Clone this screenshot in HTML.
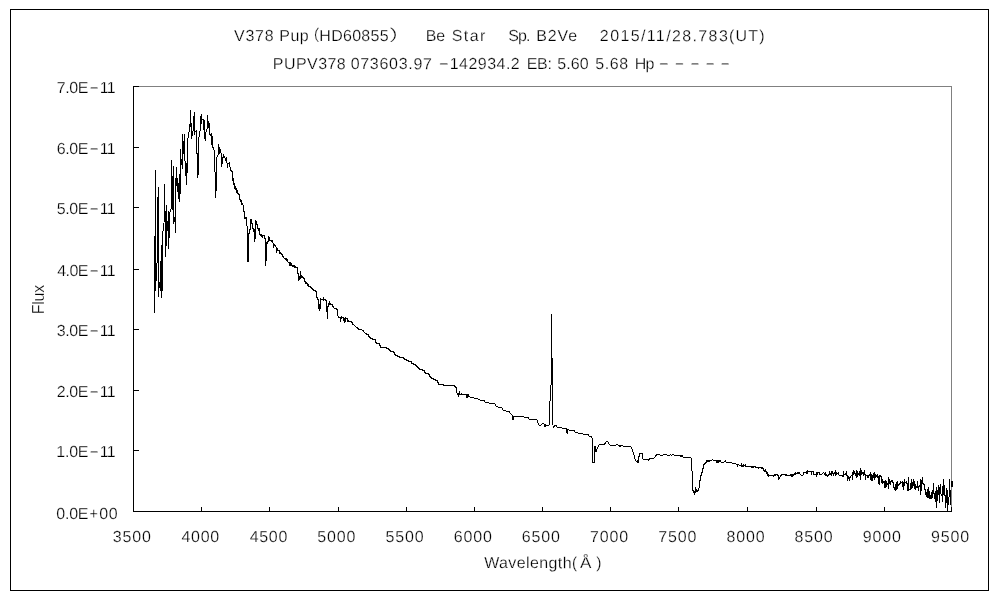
<!DOCTYPE html>
<html lang="ja"><head><meta charset="utf-8"><title>V378 Pup spectrum</title>
<style>
html,body{margin:0;padding:0;background:#fff;}
body{width:1000px;height:600px;overflow:hidden;}
svg{display:block;}
text{font-family:"Liberation Sans","IPAGothic","Noto Sans CJK JP",sans-serif;font-size:16px;fill:#000;stroke:#fff;stroke-width:0.25px;}
</style></head><body>
<svg width="1000" height="600" viewBox="0 0 1000 600">
<rect x="0" y="0" width="1000" height="600" fill="#fff"/>
<g shape-rendering="crispEdges">
<path d="M10 9h979v582h-979zM11 10v580h977v-580z" fill="#000" fill-rule="evenodd"/>
<path d="M133 86h819v426h-1v-425h-818z" fill="#808080"/>
<path d="M133 86h1v426h-1zM133 511h819v1h-819z" fill="#000"/>
<path d="M133 507h1v5h-1zM201 507h1v5h-1zM269 507h1v5h-1zM338 507h1v5h-1zM406 507h1v5h-1zM474 507h1v5h-1zM542 507h1v5h-1zM610 507h1v5h-1zM678 507h1v5h-1zM747 507h1v5h-1zM816 507h1v5h-1zM884 507h1v5h-1zM951 507h1v5h-1zM133 86h6v1h-6zM133 147h6v1h-6zM133 207h6v1h-6zM133 269h6v1h-6zM133 329h6v1h-6zM133 390h6v1h-6zM133 450h6v1h-6zM133 511h6v1h-6z" fill="#000"/>
<path d="M154 236h1v77h-1zM155 170h1v121h-1zM156 263h1v18h-1zM157 197h1v66h-1zM158 187h1v110h-1zM159 282h1v6h-1zM160 261h1v30h-1zM161 245h1v53h-1zM162 231h1v60h-1zM163 223h1v8h-1zM164 184h1v38h-1zM165 211h1v46h-1zM166 205h1v41h-1zM167 221h1v10h-1zM168 211h1v38h-1zM169 212h1v26h-1zM170 209h1v3h-1zM171 160h1v49h-1zM172 176h1v34h-1zM173 166h1v58h-1zM174 217h1v5h-1zM175 178h1v55h-1zM176 167h1v19h-1zM177 178h1v14h-1zM178 183h1v16h-1zM179 174h1v28h-1zM180 149h1v45h-1zM181 159h1v6h-1zM182 134h1v35h-1zM183 141h1v13h-1zM184 134h1v27h-1zM185 161h1v15h-1zM186 163h1v22h-1zM187 138h1v35h-1zM188 132h1v6h-1zM189 124h1v8h-1zM190 110h1v17h-1zM191 123h1v16h-1zM192 131h1v5h-1zM193 116h1v15h-1zM194 112h1v23h-1zM195 131h1v1h-1zM196 130h1v24h-1zM197 153h1v25h-1zM198 137h1v38h-1zM199 131h1v6h-1zM200 116h1v15h-1zM201 114h1v10h-1zM202 119h1v1h-1zM203 119h1v11h-1zM204 120h1v19h-1zM205 132h1v9h-1zM206 129h1v3h-1zM207 115h1v14h-1zM208 121h1v7h-1zM209 123h1v12h-1zM210 134h1v2h-1zM211 133h1v12h-1zM212 136h1v12h-1zM213 147h1v3h-1zM214 150h1v22h-1zM215 172h1v26h-1zM216 157h1v34h-1zM217 155h1v2h-1zM218 144h1v11h-1zM219 147h1v7h-1zM220 149h1v4h-1zM221 153h1v14h-1zM222 157h1v7h-1zM223 154h1v4h-1zM224 156h1v2h-1zM225 158h1v3h-1zM226 157h1v6h-1zM227 163h1v5h-1zM228 163h1v1h-1zM229 162h1v5h-1zM230 167h1v4h-1zM231 170h1v2h-1zM232 171h1v10h-1zM233 178h1v7h-1zM234 183h1v6h-1zM235 186h1v4h-1zM236 188h1v5h-1zM237 190h1v4h-1zM238 193h1v2h-1zM239 194h1v6h-1zM240 199h1v3h-1zM241 200h1v5h-1zM242 203h1v2h-1zM243 205h1v7h-1zM244 211h1v8h-1zM245 217h1v2h-1zM246 217h1v9h-1zM247 226h1v36h-1zM248 233h1v29h-1zM249 229h1v5h-1zM250 219h1v11h-1zM251 219h1v5h-1zM252 223h1v6h-1zM253 228h1v4h-1zM254 229h1v13h-1zM255 220h1v19h-1zM256 221h1v4h-1zM257 224h1v5h-1zM258 228h1v3h-1zM259 228h1v7h-1zM260 234h1v2h-1zM261 234h1v3h-1zM262 235h1v3h-1zM263 235h1v1h-1zM264 235h1v4h-1zM265 238h1v28h-1zM266 242h1v19h-1zM267 241h1v3h-1zM268 236h1v6h-1zM269 237h1v4h-1zM270 240h1v1h-1zM271 240h1v2h-1zM272 240h1v3h-1zM273 243h1v5h-1zM274 244h1v2h-1zM275 245h1v2h-1zM276 247h1v6h-1zM277 248h1v3h-1zM278 250h1v1h-1zM279 250h1v4h-1zM280 252h1v2h-1zM281 253h1v2h-1zM282 254h1v3h-1zM283 256h1v2h-1zM284 258h1v1h-1zM285 258h1v2h-1zM286 258h1v3h-1zM287 259h1v3h-1zM288 262h1v1h-1zM289 262h1v4h-1zM290 262h1v4h-1zM291 263h1v3h-1zM292 265h1v2h-1zM293 265h1v2h-1zM294 265h1v3h-1zM295 266h1v2h-1zM296 267h1v1h-1zM297 267h1v7h-1zM298 273h1v8h-1zM299 276h1v4h-1zM300 271h1v8h-1zM301 275h1v3h-1zM302 276h1v2h-1zM303 277h1v2h-1zM304 278h1v4h-1zM305 281h1v3h-1zM306 282h1v2h-1zM307 283h1v3h-1zM308 284h1v3h-1zM309 286h1v1h-1zM310 286h1v2h-1zM311 287h1v2h-1zM312 288h1v2h-1zM313 289h1v2h-1zM314 290h1v1h-1zM315 290h1v2h-1zM316 291h1v7h-1zM317 297h1v3h-1zM318 299h1v10h-1zM319 304h1v7h-1zM320 298h1v11h-1zM321 299h1v1h-1zM322 299h1v1h-1zM323 297h1v4h-1zM324 299h1v1h-1zM325 299h1v2h-1zM326 300h1v12h-1zM327 306h1v13h-1zM328 303h1v4h-1zM329 301h1v4h-1zM330 303h1v2h-1zM331 304h1v1h-1zM332 304h1v3h-1zM333 306h1v2h-1zM334 308h1v1h-1zM335 308h1v1h-1zM336 308h1v2h-1zM337 309h1v7h-1zM338 316h1v2h-1zM339 317h1v1h-1zM340 317h1v5h-1zM341 316h1v3h-1zM342 317h1v1h-1zM343 317h1v4h-1zM344 318h1v5h-1zM345 317h1v5h-1zM346 318h1v1h-1zM347 318h1v4h-1zM348 320h1v2h-1zM349 321h1v1h-1zM350 321h1v1h-1zM351 321h1v2h-1zM352 322h1v3h-1zM353 324h1v1h-1zM354 325h1v1h-1zM355 326h1v1h-1zM356 327h1v1h-1zM357 327h1v2h-1zM358 328h1v2h-1zM359 329h1v1h-1zM360 329h1v1h-1zM361 329h1v1h-1zM362 330h1v1h-1zM363 330h1v2h-1zM364 332h1v1h-1zM365 333h1v1h-1zM366 333h1v2h-1zM367 334h1v1h-1zM368 334h1v3h-1zM369 336h1v2h-1zM370 337h1v2h-1zM371 338h1v1h-1zM372 338h1v2h-1zM373 339h1v1h-1zM374 339h1v1h-1zM375 339h1v4h-1zM376 342h1v2h-1zM377 343h1v1h-1zM378 343h1v1h-1zM379 343h1v3h-1zM380 345h1v3h-1zM381 347h1v1h-1zM382 347h1v1h-1zM383 347h1v1h-1zM384 347h1v1h-1zM385 347h1v1h-1zM386 347h1v2h-1zM387 348h1v1h-1zM388 348h1v2h-1zM389 349h1v2h-1zM390 350h1v2h-1zM391 351h1v1h-1zM392 351h1v1h-1zM393 351h1v2h-1zM394 352h1v3h-1zM395 354h1v2h-1zM396 355h1v1h-1zM397 355h1v2h-1zM398 356h1v1h-1zM399 356h1v2h-1zM400 357h1v1h-1zM401 357h1v1h-1zM402 357h1v1h-1zM403 357h1v2h-1zM404 358h1v2h-1zM405 359h1v1h-1zM406 359h1v2h-1zM407 360h1v1h-1zM408 360h1v2h-1zM409 361h1v1h-1zM410 361h1v1h-1zM411 361h1v3h-1zM412 363h1v1h-1zM413 363h1v2h-1zM414 364h1v1h-1zM415 364h1v2h-1zM416 365h1v2h-1zM417 366h1v2h-1zM418 367h1v2h-1zM419 368h1v2h-1zM420 369h1v1h-1zM421 369h1v1h-1zM422 369h1v2h-1zM423 370h1v1h-1zM424 370h1v3h-1zM425 372h1v2h-1zM426 373h1v1h-1zM427 373h1v1h-1zM428 373h1v2h-1zM429 374h1v3h-1zM430 376h1v2h-1zM431 377h1v2h-1zM432 378h1v1h-1zM433 378h1v2h-1zM434 379h1v1h-1zM435 379h1v2h-1zM436 380h1v1h-1zM437 380h1v3h-1zM438 382h1v3h-1zM439 384h1v1h-1zM440 384h1v1h-1zM441 384h1v1h-1zM442 384h1v1h-1zM443 384h1v2h-1zM444 385h1v1h-1zM445 385h1v1h-1zM446 385h1v1h-1zM447 385h1v1h-1zM448 385h1v1h-1zM449 385h1v1h-1zM450 385h1v1h-1zM451 385h1v1h-1zM452 385h1v1h-1zM453 385h1v1h-1zM454 385h1v2h-1zM455 386h1v2h-1zM456 387h1v6h-1zM457 393h1v2h-1zM458 393h1v4h-1zM459 391h1v4h-1zM460 394h1v1h-1zM461 393h1v2h-1zM462 394h1v1h-1zM463 394h1v1h-1zM464 394h1v1h-1zM465 394h1v1h-1zM466 394h1v4h-1zM467 394h1v4h-1zM468 394h1v3h-1zM469 396h1v1h-1zM470 397h1v1h-1zM471 397h1v1h-1zM472 397h1v1h-1zM473 397h1v1h-1zM474 398h1v1h-1zM475 398h1v1h-1zM476 398h1v1h-1zM477 398h1v1h-1zM478 399h1v1h-1zM479 399h1v1h-1zM480 400h1v1h-1zM481 400h1v1h-1zM482 400h1v1h-1zM483 400h1v1h-1zM484 400h1v2h-1zM485 402h1v1h-1zM486 402h1v1h-1zM487 402h1v1h-1zM488 402h1v1h-1zM489 403h1v1h-1zM490 403h1v1h-1zM491 403h1v1h-1zM492 403h1v1h-1zM493 403h1v1h-1zM494 403h1v1h-1zM495 404h1v2h-1zM496 406h1v1h-1zM497 406h1v1h-1zM498 407h1v1h-1zM499 407h1v1h-1zM500 407h1v1h-1zM501 407h1v1h-1zM502 408h1v2h-1zM503 410h1v1h-1zM504 410h1v1h-1zM505 410h1v1h-1zM506 411h1v1h-1zM507 411h1v1h-1zM508 411h1v1h-1zM509 411h1v2h-1zM510 413h1v1h-1zM511 414h1v1h-1zM512 415h1v5h-1zM513 416h1v4h-1zM514 416h1v1h-1zM515 416h1v1h-1zM516 416h1v1h-1zM517 416h1v1h-1zM518 416h1v1h-1zM519 416h1v1h-1zM520 416h1v1h-1zM521 416h1v1h-1zM522 416h1v1h-1zM523 416h1v1h-1zM524 417h1v1h-1zM525 417h1v1h-1zM526 417h1v1h-1zM527 417h1v1h-1zM528 417h1v2h-1zM529 419h1v1h-1zM530 419h1v1h-1zM531 419h1v1h-1zM532 419h1v1h-1zM533 419h1v1h-1zM534 419h1v1h-1zM535 419h1v1h-1zM536 419h1v1h-1zM537 420h1v3h-1zM538 423h1v2h-1zM539 425h1v1h-1zM540 425h1v1h-1zM541 424h1v1h-1zM542 423h1v1h-1zM543 423h1v1h-1zM544 424h1v3h-1zM545 424h1v3h-1zM546 425h1v1h-1zM547 425h1v1h-1zM548 425h1v1h-1zM549 401h1v24h-1zM550 385h1v16h-1zM551 314h1v71h-1zM552 358h1v67h-1zM553 426h1v2h-1zM554 425h1v2h-1zM555 425h1v1h-1zM556 425h1v2h-1zM557 427h1v1h-1zM558 427h1v1h-1zM559 427h1v1h-1zM560 427h1v1h-1zM561 427h1v1h-1zM562 428h1v1h-1zM563 428h1v1h-1zM564 428h1v1h-1zM565 428h1v1h-1zM566 428h1v5h-1zM567 429h1v5h-1zM568 429h1v1h-1zM569 430h1v1h-1zM570 430h1v1h-1zM571 430h1v1h-1zM572 430h1v1h-1zM573 430h1v1h-1zM574 430h1v2h-1zM575 432h1v1h-1zM576 432h1v1h-1zM577 432h1v1h-1zM578 433h1v1h-1zM579 433h1v1h-1zM580 433h1v1h-1zM581 433h1v1h-1zM582 433h1v1h-1zM583 434h1v1h-1zM584 434h1v1h-1zM585 434h1v1h-1zM586 434h1v1h-1zM587 434h1v1h-1zM588 434h1v2h-1zM589 436h1v1h-1zM590 436h1v1h-1zM591 436h1v2h-1zM592 438h1v25h-1zM593 462h1v1h-1zM594 446h1v17h-1zM595 446h1v6h-1zM596 449h1v3h-1zM597 447h1v2h-1zM598 445h1v2h-1zM599 444h1v1h-1zM600 444h1v1h-1zM601 444h1v1h-1zM602 444h1v1h-1zM603 444h1v1h-1zM604 443h1v2h-1zM605 442h1v2h-1zM606 441h1v1h-1zM607 441h1v1h-1zM608 442h1v2h-1zM609 444h1v1h-1zM610 445h1v1h-1zM611 445h1v1h-1zM612 445h1v1h-1zM613 445h1v1h-1zM614 445h1v1h-1zM615 445h1v1h-1zM616 444h1v1h-1zM617 444h1v1h-1zM618 445h1v1h-1zM619 445h1v2h-1zM620 445h1v2h-1zM621 445h1v1h-1zM622 445h1v1h-1zM623 446h1v1h-1zM624 446h1v1h-1zM625 446h1v1h-1zM626 446h1v1h-1zM627 446h1v1h-1zM628 446h1v1h-1zM629 446h1v1h-1zM630 446h1v1h-1zM631 447h1v2h-1zM632 449h1v3h-1zM633 452h1v3h-1zM634 455h1v4h-1zM635 459h1v2h-1zM636 461h1v1h-1zM637 460h1v3h-1zM638 456h1v7h-1zM639 453h1v4h-1zM640 453h1v1h-1zM641 453h1v1h-1zM642 453h1v6h-1zM643 459h1v1h-1zM644 459h1v1h-1zM645 459h1v1h-1zM646 459h1v1h-1zM647 459h1v1h-1zM648 459h1v2h-1zM649 458h1v2h-1zM650 458h1v1h-1zM651 458h1v1h-1zM652 458h1v1h-1zM653 458h1v1h-1zM654 457h1v1h-1zM655 455h1v2h-1zM656 454h1v2h-1zM657 454h1v1h-1zM658 454h1v1h-1zM659 454h1v1h-1zM660 455h1v1h-1zM661 455h1v1h-1zM662 455h1v1h-1zM663 454h1v1h-1zM664 454h1v1h-1zM665 454h1v1h-1zM666 454h1v1h-1zM667 455h1v1h-1zM668 455h1v1h-1zM669 455h1v1h-1zM670 454h1v1h-1zM671 455h1v1h-1zM672 454h1v1h-1zM673 454h1v1h-1zM674 455h1v1h-1zM675 455h1v1h-1zM676 455h1v1h-1zM677 455h1v1h-1zM678 455h1v1h-1zM679 455h1v1h-1zM680 455h1v2h-1zM681 455h1v2h-1zM682 455h1v2h-1zM683 457h1v1h-1zM684 457h1v1h-1zM685 457h1v1h-1zM686 457h1v1h-1zM687 457h1v1h-1zM688 457h1v1h-1zM689 457h1v1h-1zM690 457h1v1h-1zM691 458h1v13h-1zM692 471h1v20h-1zM693 490h1v3h-1zM694 491h1v4h-1zM695 487h1v6h-1zM696 489h1v3h-1zM697 490h1v2h-1zM698 488h1v3h-1zM699 480h1v8h-1zM700 475h1v6h-1zM701 472h1v4h-1zM702 468h1v5h-1zM703 464h1v5h-1zM704 463h1v2h-1zM705 462h1v2h-1zM706 460h1v3h-1zM707 460h1v2h-1zM708 460h1v2h-1zM709 460h1v2h-1zM710 460h1v1h-1zM711 460h1v1h-1zM712 459h1v1h-1zM713 460h1v1h-1zM714 460h1v1h-1zM715 460h1v1h-1zM716 460h1v3h-1zM717 460h1v3h-1zM718 460h1v3h-1zM719 460h1v2h-1zM720 460h1v2h-1zM721 462h1v1h-1zM722 462h1v1h-1zM723 462h1v1h-1zM724 461h1v1h-1zM725 460h1v2h-1zM726 462h1v1h-1zM727 462h1v1h-1zM728 462h1v1h-1zM729 462h1v1h-1zM730 462h1v1h-1zM731 462h1v1h-1zM732 463h1v1h-1zM733 463h1v1h-1zM734 463h1v1h-1zM735 463h1v1h-1zM736 464h1v1h-1zM737 464h1v3h-1zM738 464h1v1h-1zM739 465h1v1h-1zM740 465h1v1h-1zM741 463h1v4h-1zM742 465h1v2h-1zM743 464h1v3h-1zM744 465h1v1h-1zM745 464h1v3h-1zM746 466h1v1h-1zM747 466h1v1h-1zM748 466h1v1h-1zM749 466h1v1h-1zM750 466h1v1h-1zM751 466h1v2h-1zM752 466h1v2h-1zM753 466h1v2h-1zM754 466h1v1h-1zM755 466h1v2h-1zM756 467h1v1h-1zM757 467h1v1h-1zM758 467h1v2h-1zM759 467h1v1h-1zM760 467h1v1h-1zM761 467h1v2h-1zM762 467h1v2h-1zM763 468h1v3h-1zM764 470h1v2h-1zM765 469h1v3h-1zM766 471h1v3h-1zM767 472h1v4h-1zM768 474h1v3h-1zM769 475h1v1h-1zM770 475h1v1h-1zM771 475h1v1h-1zM772 475h1v1h-1zM773 475h1v2h-1zM774 474h1v2h-1zM775 474h1v2h-1zM776 474h1v1h-1zM777 474h1v2h-1zM778 475h1v5h-1zM779 477h1v2h-1zM780 475h1v2h-1zM781 474h1v2h-1zM782 474h1v1h-1zM783 474h1v1h-1zM784 474h1v1h-1zM785 474h1v2h-1zM786 474h1v2h-1zM787 475h1v1h-1zM788 475h1v1h-1zM789 475h1v1h-1zM790 474h1v2h-1zM791 474h1v3h-1zM792 474h1v3h-1zM793 474h1v2h-1zM794 473h1v2h-1zM795 472h1v3h-1zM796 473h1v1h-1zM797 472h1v2h-1zM798 472h1v2h-1zM799 472h1v2h-1zM800 474h1v1h-1zM801 475h1v1h-1zM802 475h1v1h-1zM803 472h1v3h-1zM804 472h1v1h-1zM805 472h1v1h-1zM806 471h1v3h-1zM807 470h1v4h-1zM808 471h1v1h-1zM809 471h1v1h-1zM810 471h1v1h-1zM811 471h1v4h-1zM812 471h1v1h-1zM813 471h1v4h-1zM814 474h1v1h-1zM815 474h1v1h-1zM816 472h1v5h-1zM817 472h1v3h-1zM818 472h1v1h-1zM819 472h1v3h-1zM820 474h1v1h-1zM821 474h1v1h-1zM822 473h1v1h-1zM823 472h1v1h-1zM824 473h1v2h-1zM825 472h1v4h-1zM826 474h1v2h-1zM827 475h1v2h-1zM828 474h1v2h-1zM829 471h1v4h-1zM830 473h1v2h-1zM831 471h1v5h-1zM832 471h1v3h-1zM833 473h1v3h-1zM834 472h1v2h-1zM835 470h1v6h-1zM836 472h1v3h-1zM837 473h1v1h-1zM838 472h1v3h-1zM839 475h1v1h-1zM840 475h1v1h-1zM841 475h1v1h-1zM842 475h1v2h-1zM843 471h1v6h-1zM844 474h1v1h-1zM845 473h1v2h-1zM846 471h1v5h-1zM847 475h1v6h-1zM848 476h1v3h-1zM849 477h1v4h-1zM850 476h1v2h-1zM851 475h1v1h-1zM852 472h1v8h-1zM853 470h1v5h-1zM854 471h1v3h-1zM855 473h1v3h-1zM856 470h1v8h-1zM857 471h1v6h-1zM858 473h1v2h-1zM859 471h1v5h-1zM860 468h1v12h-1zM861 470h1v5h-1zM862 472h1v2h-1zM863 472h1v4h-1zM864 470h1v5h-1zM865 474h1v6h-1zM866 475h1v1h-1zM867 475h1v3h-1zM868 475h1v3h-1zM869 474h1v2h-1zM870 472h1v8h-1zM871 474h1v7h-1zM872 475h1v6h-1zM873 473h1v5h-1zM874 472h1v8h-1zM875 474h1v4h-1zM876 475h1v2h-1zM877 474h1v4h-1zM878 476h1v8h-1zM879 475h1v10h-1zM880 475h1v2h-1zM881 476h1v7h-1zM882 479h1v5h-1zM883 481h1v2h-1zM884 481h1v7h-1zM885 480h1v8h-1zM886 481h1v6h-1zM887 483h1v2h-1zM888 477h1v12h-1zM889 479h1v5h-1zM890 481h1v4h-1zM891 480h1v2h-1zM892 480h1v3h-1zM893 482h1v6h-1zM894 487h1v3h-1zM895 484h1v7h-1zM896 482h1v8h-1zM897 481h1v8h-1zM898 484h1v2h-1zM899 483h1v2h-1zM900 481h1v3h-1zM901 482h1v1h-1zM902 481h1v6h-1zM903 482h1v8h-1zM904 479h1v7h-1zM905 482h1v1h-1zM906 481h1v3h-1zM907 483h1v8h-1zM908 477h1v14h-1zM909 489h1v1h-1zM910 483h1v7h-1zM911 479h1v10h-1zM912 482h1v6h-1zM913 479h1v7h-1zM914 481h1v8h-1zM915 484h1v6h-1zM916 486h1v2h-1zM917 481h1v7h-1zM918 486h1v5h-1zM919 485h1v2h-1zM920 479h1v16h-1zM921 480h1v11h-1zM922 477h1v7h-1zM923 483h1v2h-1zM924 484h1v6h-1zM925 489h1v6h-1zM926 492h1v5h-1zM927 489h1v9h-1zM928 487h1v11h-1zM929 491h1v8h-1zM930 495h1v4h-1zM931 492h1v7h-1zM932 490h1v8h-1zM933 483h1v11h-1zM934 493h1v6h-1zM935 491h1v11h-1zM936 487h1v21h-1zM937 490h1v11h-1zM938 485h1v10h-1zM939 487h1v16h-1zM940 484h1v10h-1zM941 494h1v2h-1zM942 486h1v16h-1zM943 479h1v16h-1zM944 485h1v11h-1zM945 495h1v13h-1zM946 488h1v15h-1zM947 490h1v21h-1zM948 497h1v8h-1zM949 479h1v18h-1zM950 490h1v15h-1zM951 481h1v6h-1zM952 481h1v6h-1z" fill="#000"/>
</g>
<g>
<text transform="matrix(1 0.002 0 1 234.00 41)" letter-spacing="0.750">V378</text>
<text transform="matrix(1 0.002 0 1 279.35 41)" letter-spacing="0.450">Pup</text>
<text transform="matrix(0.9412 0.002 0 1 305.12 41)">（</text>
<text transform="matrix(1 0.002 0 1 319.35 41)" letter-spacing="0.275">HD60855</text>
<text transform="matrix(1.4118 0.002 0 1 388.24 41)">）</text>
<text transform="matrix(1 0.002 0 1 425.75 41)" letter-spacing="-0.100">Be</text>
<text transform="matrix(1 0.002 0 1 451.65 41)" letter-spacing="1.450">Star</text>
<text transform="matrix(1 0.002 0 1 508.25 41)" letter-spacing="-0.875">Sp.</text>
<text transform="matrix(1 0.002 0 1 536.35 41)" letter-spacing="0.850">B2Ve</text>
<text transform="matrix(1 0.002 0 1 599.85 41)" letter-spacing="1.377">2015/11/28.783</text>
<text transform="matrix(1 0.002 0 1 729.00 41)" letter-spacing="1.200">(UT)</text>
<text transform="matrix(1 0.002 0 1 272.75 69)" letter-spacing="0.458">PUPV378</text>
<text transform="matrix(1 0.002 0 1 350.65 69)" letter-spacing="0.700">073603.97</text>
<text transform="matrix(2.0267 0.002 0 1 438.48 68)">-</text>
<text transform="matrix(1 0.002 0 1 449.75 69)" letter-spacing="0.464">142934.2</text>
<text transform="matrix(1 0.002 0 1 526.75 69)" letter-spacing="-0.300">EB:</text>
<text transform="matrix(1 0.002 0 1 557.25 69)" letter-spacing="0.083">5.60</text>
<text transform="matrix(1 0.002 0 1 595.25 69)" letter-spacing="0.617">5.68</text>
<text transform="matrix(1 0.002 0 1 634.75 69)" letter-spacing="-0.900">Hp</text>
<text transform="matrix(2.0267 0.002 0 1 658.48 68)">-</text>
<text transform="matrix(1.8667 0.002 0 1 674.60 68)">-</text>
<text transform="matrix(1.8667 0.002 0 1 690.00 68)">-</text>
<text transform="matrix(1.8667 0.002 0 1 705.20 68)">-</text>
<text transform="matrix(1.8667 0.002 0 1 720.20 68)">-</text>
<text transform="matrix(1 0.002 0 1 56.75 93)" letter-spacing="-0.400">7.0E</text>
<text transform="matrix(1.8667 0.002 0 1 89.20 92)">-</text>
<text transform="matrix(1 0.002 0 1 99.75 93)" letter-spacing="-0.800">11</text>
<text transform="matrix(1 0.002 0 1 56.75 154)" letter-spacing="-0.400">6.0E</text>
<text transform="matrix(1.8667 0.002 0 1 89.20 153)">-</text>
<text transform="matrix(1 0.002 0 1 99.75 154)" letter-spacing="-0.800">11</text>
<text transform="matrix(1 0.002 0 1 56.75 214)" letter-spacing="-0.400">5.0E</text>
<text transform="matrix(1.8667 0.002 0 1 89.20 213)">-</text>
<text transform="matrix(1 0.002 0 1 99.75 214)" letter-spacing="-0.800">11</text>
<text transform="matrix(1 0.002 0 1 57.25 276)" letter-spacing="-0.567">4.0E</text>
<text transform="matrix(1.8667 0.002 0 1 89.20 275)">-</text>
<text transform="matrix(1 0.002 0 1 99.75 276)" letter-spacing="-0.800">11</text>
<text transform="matrix(1 0.002 0 1 56.75 336)" letter-spacing="-0.400">3.0E</text>
<text transform="matrix(1.8667 0.002 0 1 89.20 335)">-</text>
<text transform="matrix(1 0.002 0 1 99.75 336)" letter-spacing="-0.800">11</text>
<text transform="matrix(1 0.002 0 1 56.75 397)" letter-spacing="-0.400">2.0E</text>
<text transform="matrix(1.8667 0.002 0 1 89.20 396)">-</text>
<text transform="matrix(1 0.002 0 1 99.75 397)" letter-spacing="-0.800">11</text>
<text transform="matrix(1 0.002 0 1 56.25 457)" letter-spacing="-0.233">1.0E</text>
<text transform="matrix(1.8667 0.002 0 1 89.20 456)">-</text>
<text transform="matrix(1 0.002 0 1 99.75 457)" letter-spacing="-0.800">11</text>
<text transform="matrix(1 0.002 0 1 56.25 519)" letter-spacing="-0.233">0.0E</text>
<text transform="matrix(0.9032 0.002 0 1 89.62 519)">+</text>
<text transform="matrix(1 0.002 0 1 99.25 519)" letter-spacing="0.700">00</text>
<text transform="matrix(1 0.002 0 1 112.85 542)" letter-spacing="0.850">3500</text>
<text transform="matrix(1 0.002 0 1 181.52 542)" letter-spacing="0.683">4000</text>
<text transform="matrix(1 0.002 0 1 249.69 542)" letter-spacing="0.683">4500</text>
<text transform="matrix(1 0.002 0 1 317.36 542)" letter-spacing="0.850">5000</text>
<text transform="matrix(1 0.002 0 1 385.53 542)" letter-spacing="0.850">5500</text>
<text transform="matrix(1 0.002 0 1 453.70 542)" letter-spacing="0.850">6000</text>
<text transform="matrix(1 0.002 0 1 521.87 542)" letter-spacing="0.850">6500</text>
<text transform="matrix(1 0.002 0 1 590.04 542)" letter-spacing="0.850">7000</text>
<text transform="matrix(1 0.002 0 1 658.21 542)" letter-spacing="0.850">7500</text>
<text transform="matrix(1 0.002 0 1 726.38 542)" letter-spacing="0.850">8000</text>
<text transform="matrix(1 0.002 0 1 794.55 542)" letter-spacing="0.850">8500</text>
<text transform="matrix(1 0.002 0 1 862.72 542)" letter-spacing="0.850">9000</text>
<text transform="matrix(1 0.002 0 1 930.89 542)" letter-spacing="0.850">9500</text>
<text transform="matrix(1 0.002 0 1 484.20 568)" letter-spacing="0.383">Wavelength</text>
<text transform="matrix(0.9412 0.002 0 1 572.06 568)">(</text>
<text transform="matrix(1.0667 0.002 0 1 580.00 568)">Å</text>
<text transform="matrix(0.9750 0.002 0 1 596.16 568)">)</text>
<text transform="translate(44 314.25) rotate(-90)" letter-spacing="-0.250">Flux</text>
</g>
</svg></body></html>
